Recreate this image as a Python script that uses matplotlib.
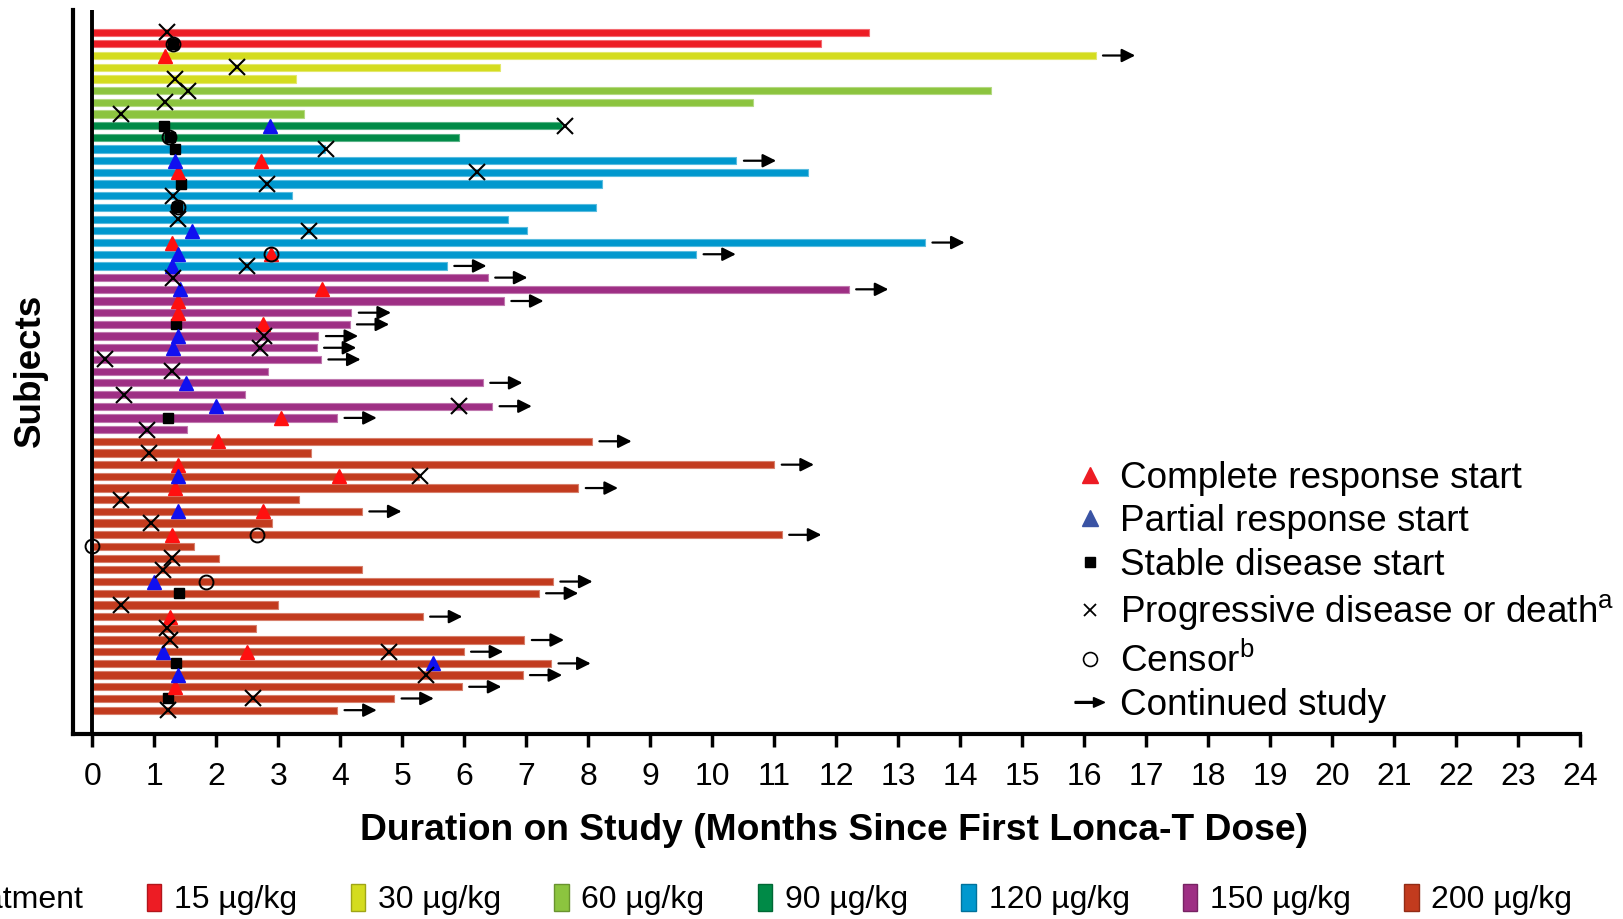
import numpy as np
import matplotlib
matplotlib.use("Agg")
import matplotlib.pyplot as plt
import matplotlib.patches as mpatches
from matplotlib.lines import Line2D
from matplotlib.legend_handler import HandlerPatch

plt.rcParams['font.family'] = ['Liberation Sans', 'DejaVu Sans']

# dose groups (top to bottom) and their colours
doses = ['15 µg/kg', '30 µg/kg', '60 µg/kg', '90 µg/kg', '120 µg/kg', '150 µg/kg', '200 µg/kg']
dose_colors = ['#ED1C24', '#D4DC1E', '#8CC43F', '#008A47', '#0098CE', '#9E2F84', '#C23B1E']

# dose group index of each subject, top to bottom
subject_dose = [0]*2 + [1]*3 + [2]*3 + [3]*2 + [4]*11 + [5]*14 + [6]*24

# months on study for each subject
duration = [12.52, 11.75, 16.18, 6.58, 3.28, 14.50, 10.66, 3.41, 7.58, 5.92,
            3.75, 10.39, 11.54, 8.22, 3.23, 8.13, 6.71, 7.01, 13.43, 9.74, 5.72,
            6.38, 12.20, 6.64, 4.18, 4.15, 3.65, 3.62, 3.69, 2.84, 6.30, 2.47, 6.45, 3.95, 1.53,
            8.06, 3.53, 11.00, 5.27, 7.84, 3.33, 4.35, 2.90, 11.12, 1.65, 2.04, 4.35,
            7.43, 7.20, 3.00, 5.33, 2.64, 6.97, 5.99, 7.40, 6.94, 5.96, 4.87, 3.95]

# 1 = subject continued on study
continued = [0, 0, 1, 0, 0, 0, 0, 0, 0, 0,
             0, 1, 0, 0, 0, 0, 0, 0, 1, 1, 1,
             1, 1, 1, 1, 1, 1, 1, 1, 0, 1, 0, 1, 1, 0,
             1, 0, 1, 0, 1, 0, 1, 0, 1, 0, 0, 0,
             1, 1, 0, 1, 0, 1, 1, 1, 1, 1, 1, 1]

# events: (subject index, month)
complete_resp = [(2, 1.18), (11, 2.72), (12, 1.38), (18, 1.28), (19, 2.89), (22, 3.71),
                 (23, 1.38), (24, 1.38), (25, 2.75), (33, 3.05), (35, 2.03), (37, 1.38),
                 (38, 3.98), (39, 1.34), (41, 2.75), (43, 1.28), (50, 1.25), (53, 2.50),
                 (56, 1.34)]
partial_resp = [(8, 2.86), (11, 1.34), (17, 1.61), (19, 1.38), (20, 1.28), (22, 1.41),
                (26, 1.38), (27, 1.31), (30, 1.51), (32, 2.00), (38, 1.38), (41, 1.38),
                (47, 0.99), (53, 1.15), (54, 5.49), (55, 1.38)]
stable = [(1, 1.30), (8, 1.16), (9, 1.25), (10, 1.34), (13, 1.43), (15, 1.37),
          (25, 1.36), (33, 1.23), (48, 1.40), (54, 1.36), (57, 1.23)]
progression = [(0, 1.21), (3, 2.33), (4, 1.34), (5, 1.55), (6, 1.18), (7, 0.46),
               (8, 7.63), (10, 3.77), (12, 6.21), (13, 2.82), (14, 1.31), (16, 1.38),
               (17, 3.49), (20, 2.50), (21, 1.31), (26, 2.77), (27, 2.70), (28, 0.20),
               (29, 1.28), (31, 0.52), (32, 5.92), (34, 0.89), (36, 0.92), (38, 5.29),
               (40, 0.46), (42, 0.95), (45, 1.28), (46, 1.15), (49, 0.46), (51, 1.21),
               (52, 1.25), (53, 4.79), (55, 5.39), (57, 2.59), (58, 1.23)]
censor = [(1, 1.31), (9, 1.24), (15, 1.38), (19, 2.89), (43, 2.66), (44, 0.0), (47, 1.84)]

xticks = list(range(0, 25))


def lighten(c, f=0.35):
    rgb = np.array(matplotlib.colors.to_rgb(c))
    return tuple(rgb + (1 - rgb) * f)


def darken(c, f=0.75):
    return tuple(np.array(matplotlib.colors.to_rgb(c)) * f)


fig = plt.figure(figsize=(16.23, 9.19), dpi=100)
ax = fig.add_axes([0.0447, 0.2013, 0.9291, 0.7874])

ypos = np.arange(len(duration))
bar_cols = [dose_colors[d] for d in subject_dose]
ax.barh(ypos, duration, height=0.62, left=0, color=bar_cols,
        edgecolor=[lighten(c) for c in bar_cols], linewidth=0.8, zorder=2)

# continued study arrows
for i in range(len(duration)):
    if continued[i]:
        ax.annotate('', xy=(duration[i] + 0.64, i), xytext=(duration[i] + 0.12, i),
                    arrowprops=dict(arrowstyle='-|>', color='black', lw=1.6,
                                    mutation_scale=20, shrinkA=0, shrinkB=0),
                    zorder=3)


def ev(pairs):
    return [p[1] for p in pairs], [p[0] for p in pairs]


x, y = ev(stable)
ax.plot(x, y, 's', color='black', markersize=7.5, ls='none', zorder=4)
x, y = ev(complete_resp)
ax.plot(x, y, '^', color='#FF1010', markersize=9.5, ls='none', zorder=5)
x, y = ev(partial_resp)
ax.plot(x, y, '^', color='#1010F0', markersize=9.5, ls='none', zorder=5)
x, y = ev(censor)
ax.plot(x, y, 'o', mfc='none', mec='black', mew=1.4, markersize=10, ls='none', zorder=6, clip_on=False)
x, y = ev(progression)
ax.plot(x, y, 'x', color='black', mew=1.5, markersize=11, ls='none', zorder=6)

ax.axvline(0, color='black', lw=2.8, zorder=3)

ax.set_xlim(-0.316, 24)
ax.set_ylim(60.04, -1.86)
ax.set_xticks(xticks)
ax.set_xticklabels([str(t) for t in xticks])
ax.set_yticks([])
ax.tick_params(axis='x', direction='out', length=9, width=2.5, labelsize=23, pad=11)
for s in ['top', 'right']:
    ax.spines[s].set_visible(False)
ax.spines['left'].set_linewidth(3)
ax.spines['bottom'].set_linewidth(3)

ax.set_xlabel('Duration on Study (Months Since First Lonca-T Dose)',
              fontsize=26.8, fontweight='bold', labelpad=15)
ax.xaxis.label.set_x(0.505)
fig.text(0.019, 0.597, 'Subjects', rotation=90, fontsize=26.5, fontweight='bold',
         ha='center', va='center')


class ArrowHandler(HandlerPatch):
    def create_artists(self, legend, orig_handle, xdescent, ydescent, width, height, fontsize, trans):
        yc = height / 2 - ydescent
        a = mpatches.FancyArrow(-xdescent, yc, width, 0, width=1.3, head_width=7,
                                head_length=8, length_includes_head=True, color='black')
        a.set_transform(trans)
        return [a]


arrow_handle = mpatches.Patch(color='black')
handles = [Line2D([], [], marker='^', color='#ED1C24', ls='none', markersize=11),
           Line2D([], [], marker='^', color='#3A53A4', ls='none', markersize=11),
           Line2D([], [], marker='s', color='black', ls='none', markersize=7),
           Line2D([], [], marker='x', color='black', ls='none', markersize=9, mew=1.3),
           Line2D([], [], marker='o', mfc='none', mec='black', ls='none', markersize=10, mew=1.2),
           arrow_handle]
labels = ['Complete response start', 'Partial response start', 'Stable disease start',
          'Progressive disease or death$^{\\mathregular{a}}$', 'Censor$^{\\mathregular{b}}$',
          'Continued study']
leg = fig.legend(handles, labels, loc='upper left', bbox_to_anchor=(0.651, 0.519),
                 frameon=False, fontsize=26.6, handlelength=0.8, handletextpad=0.43,
                 labelspacing=0.24, borderpad=0, handler_map={arrow_handle: ArrowHandler()})

# dose legend at the bottom
fig.text(0.051, 0.021, 'Treatment', fontsize=23, ha='right', va='center')
dose_handles = [mpatches.Patch(facecolor=c, edgecolor=darken(c), linewidth=1) for c in dose_colors]
fig.legend(dose_handles, doses, loc='center left', bbox_to_anchor=(0.0905, 0.021),
           ncol=7, frameon=False, fontsize=23, handlelength=0.45, handleheight=0.9,
           handletextpad=0.4, columnspacing=1.67, borderpad=0, borderaxespad=0)

fig.savefig('out.png', dpi=100)
